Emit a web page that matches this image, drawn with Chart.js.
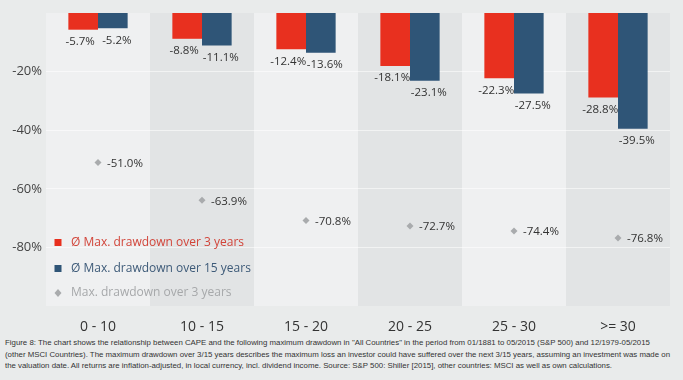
<!DOCTYPE html>
<html>
<head>
<meta charset="utf-8">
<script src="https://cdn.jsdelivr.net/npm/chart.js@4/dist/chart.umd.min.js"></script>
<style>
  html, body { margin: 0; padding: 0; background: #e9ebeb; }
  #wrap { position: relative; width: 683px; height: 380px; overflow: hidden; background: #e9ebeb; }
  #box { position: absolute; left: 0; top: 0; width: 683px; height: 335px; }
  #cap { position: absolute; left: 5px; top: 337px; font-family: "Liberation Sans", Arial, sans-serif; font-size: 8px; line-height: 11.5px; color: #333; white-space: nowrap; transform-origin: 0 0; }
  #cap div { display: block; }
</style>
</head>
<body>
<div id="wrap">
  <div id="box"><canvas id="c"></canvas></div>
  <div id="cap">
    <div>Figure 8: The chart shows the relationship between CAPE and the following maximum drawdown in "All Countries" in the period from 01/1881 to 05/2015 (S&amp;P 500) and 12/1979-05/2015</div>
    <div>(other MSCI Countries). The maximum drawdown over 3/15 years describes the maximum loss an investor could have suffered over the next 3/15 years, assuming an investment was made on</div>
    <div>the valuation date. All returns are inflation-adjusted, in local currency, incl. dividend income. Source: S&amp;P 500: Shiller [2015], other countries: MSCI as well as own calculations.</div>
  </div>
</div>
<script>
const categories = ["0 - 10", "10 - 15", "15 - 20", "20 - 25", "25 - 30", ">= 30"];
const avgDrawdown3y = [-5.7, -8.8, -12.4, -18.1, -22.3, -28.8];
const avgDrawdown15y = [-5.2, -11.1, -13.6, -23.1, -27.5, -39.5];
const maxDrawdown3y = [-51.0, -63.9, -70.8, -72.7, -74.4, -76.8];
const yTicks = [-20, -40, -60, -80];
const seriesNames = ["Ø Max. drawdown over 3 years", "Ø Max. drawdown over 15 years", "Max. drawdown over 3 years"];

// fit caption to reference width
(function () {
  const cap = document.getElementById('cap');
  const w = cap.getBoundingClientRect().width;
  if (w > 0) cap.style.transform = 'scaleX(' + (665 / w) + ')';
})();

const FONT = '"Open Sans", "Noto Sans", sans-serif';
const RED = '#e8301f', BLUE = '#2f5577', GREY = '#a9abad';

const columnsPlugin = {
  id: 'columns',
  beforeDraw(chart) {
    const { ctx, chartArea, scales } = chart;
    const x = scales.x;
    const w = (chartArea.right - chartArea.left) / categories.length;
    ctx.save();
    categories.forEach((c, i) => {
      const cx = x.getPixelForValue(i);
      ctx.fillStyle = i % 2 === 0 ? '#eff0f1' : '#e2e4e5';
      ctx.fillRect(cx - w / 2, chartArea.top, w, chartArea.bottom - chartArea.top);
    });
    ctx.restore();
  }
};

const labelsPlugin = {
  id: 'valLabels',
  afterDatasetsDraw(chart) {
    const { ctx } = chart;
    ctx.save();
    ctx.font = '11.5px ' + FONT;
    ctx.fillStyle = '#333';
    ctx.textBaseline = 'middle';
    [0, 1].forEach(di => {
      const meta = chart.getDatasetMeta(di);
      const data = chart.data.datasets[di].data;
      meta.data.forEach((el, i) => {
        ctx.textAlign = 'center';
        const dx = di === 0 ? -3 : 4;
        ctx.fillText(data[i].toFixed(1) + '%', el.x + dx, el.y + 12);
      });
    });
    const pm = chart.getDatasetMeta(2);
    const pd = chart.data.datasets[2].data;
    pm.data.forEach((el, i) => {
      ctx.textAlign = 'left';
      ctx.fillText(pd[i].toFixed(1) + '%', el.x + 9, el.y + 1);
    });
    ctx.restore();
  }
};

const legendPlugin = {
  id: 'inLegend',
  afterDraw(chart) {
    const { ctx, chartArea } = chart;
    const colors = [RED, BLUE, GREY];
    const textColors = ['#d2453a', '#3d5a78', '#a6a8aa'];
    const rows = [243, 269, 293];
    ctx.save();
    ctx.font = '12px ' + FONT;
    ctx.textBaseline = 'middle';
    ctx.textAlign = 'left';
    seriesNames.forEach((n, i) => {
      const y = rows[i];
      const x = chartArea.left + 12;
      ctx.fillStyle = colors[i];
      if (i < 2) {
        ctx.fillRect(x - 3.5, y - 4, 7, 7);
      } else {
        ctx.beginPath();
        ctx.moveTo(x, y - 4); ctx.lineTo(x + 3.5, y); ctx.lineTo(x, y + 4); ctx.lineTo(x - 3.5, y);
        ctx.closePath(); ctx.fill();
      }
      ctx.fillStyle = textColors[i];
      ctx.fillText(n, x + 13, y);
    });
    ctx.restore();
  }
};

new Chart(document.getElementById('c'), {
  data: {
    labels: categories,
    datasets: [
      { type: 'bar', label: seriesNames[0], data: avgDrawdown3y, backgroundColor: RED, categoryPercentage: 0.57, barPercentage: 1.0, order: 2 },
      { type: 'bar', label: seriesNames[1], data: avgDrawdown15y, backgroundColor: BLUE, categoryPercentage: 0.57, barPercentage: 1.0, order: 2 },
      { type: 'line', label: seriesNames[2], data: maxDrawdown3y, showLine: false, pointStyle: 'rectRot', pointRadius: 3.5, pointBackgroundColor: GREY, pointBorderColor: GREY, pointBorderWidth: 0, order: 1 }
    ]
  },
  options: {
    responsive: true,
    maintainAspectRatio: false,
    animation: false,
    layout: { padding: { top: 13, right: 13, left: 0, bottom: 0 } },
    plugins: { legend: { display: false }, tooltip: { enabled: false } },
    scales: {
      x: {
        grid: { display: false },
        border: { display: false },
        ticks: { color: '#333', font: { family: FONT, size: 14 }, padding: 5 },
        afterFit(s) { s.height = 29; }
      },
      y: {
        min: -100, max: 0,
        afterBuildTicks(s) { s.ticks = yTicks.map(v => ({ value: v })); },
        grid: { color: 'rgba(255,255,255,0.55)', lineWidth: 1, drawTicks: false },
        border: { display: false },
        ticks: { color: '#444', font: { family: FONT, size: 13 }, padding: 4, callback: v => v + '%' },
        afterFit(s) { s.width = 46; }
      }
    }
  },
  plugins: [columnsPlugin, labelsPlugin, legendPlugin]
});
</script>
</body>
</html>
